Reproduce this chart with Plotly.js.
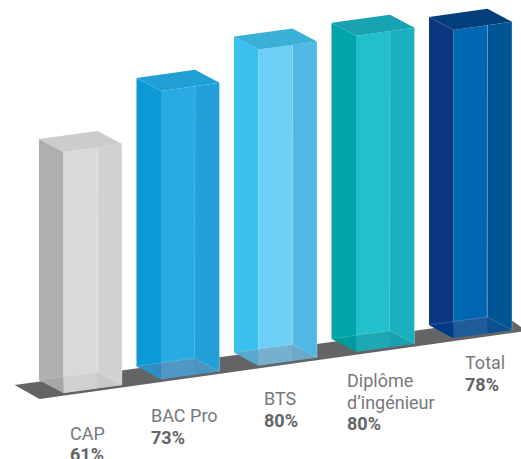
<!DOCTYPE html>
<html><head><meta charset="utf-8">
<script src="https://cdn.plot.ly/plotly-3.0.1.min.js"></script>
<style>html,body{margin:0;padding:0;background:#fff;overflow:hidden}#c{width:521px;height:459px}</style>
</head><body><div id="c"></div>
<script>
const categories = [["CAP"],["BAC Pro"],["BTS"],["Diplôme","d’ingénieur"],["Total"]];
const values = [61,73,80,80,78];
const leftColors  = ["#aeafb1","#0a9ad5","#3bbfef","#00a5a8","#0d3680"];
const midColors   = ["#d8d9db","#29aae3","#6dcff6","#22bfcd","#0066b2"];
const rightColors = ["#d0d1d3","#22a0d8","#50b8e2","#1bb0bf","#005594"];
const topColors   = ["#cbccce","#209fd5","#3ab0d9","#18a2b2","#01407a"];
const floorLeft   = ["#a6a7a9","#2f8fc4","#5aa9cc","#009a9e","#003a85"];
const floorMid    = ["#cfd0d2","#4f97c4","#75b0cf","#1ea8b5","#1f5c9a"];
const floorRight  = ["#c8c9cb","#4a94c0","#6aa9c8","#19a0ae","#0a5090"];

const PX_X = 97.5, PX_Y = 3.95, RISE = 13.75;
// position: category index i, pixel offset dx along the ground, height v in %, pixel lift dy
const X = (i,dx)=> i + dx/PX_X;
const Y = (i,v,dy)=> (RISE*i + dy)/PX_Y + v;
const FRONT=58.5, SIDE=24.5, SPLIT=34, SLOPE=8/58, DEPTH=13;
const frontLift = dx => dx*SLOPE;

function poly(pts,color){
  return {type:'scatter',mode:'lines',x:pts.map(p=>p[0]),y:pts.map(p=>p[1]),
    fill:'toself',fillcolor:color,line:{width:0,color:color},hoverinfo:'skip',showlegend:false};
}
function seg(pts,color,w){
  return {type:'scatter',mode:'lines',x:pts.map(p=>p[0]),y:pts.map(p=>p[1]),
    line:{width:w,color:color},hoverinfo:'skip',showlegend:false};
}
const traces=[];
// floor slab
traces.push(poly([[X(0,-49),Y(0,0,8)],[X(0,-24),Y(0,0,-6)],[X(4,73),Y(4,0,7)],[X(4,55),Y(4,0,20)]],"#636466"));

values.forEach((v,i)=>{
  const P=(dx,h,dy)=>[X(i,dx),Y(i,h,dy)];
  traces.push(poly([P(-SIDE,v,DEPTH),P(0,v,0),P(0,0,0),P(-SIDE,0,DEPTH)],leftColors[i]));
  traces.push(poly([P(0,v,0),P(SPLIT,v,frontLift(SPLIT)),P(SPLIT,0,frontLift(SPLIT)),P(0,0,0)],midColors[i]));
  traces.push(poly([P(SPLIT,v,frontLift(SPLIT)),P(FRONT,v,frontLift(FRONT)),P(FRONT,0,frontLift(FRONT)),P(SPLIT,0,frontLift(SPLIT))],rightColors[i]));
  traces.push(poly([P(-SIDE,v,DEPTH),P(0,v,0),P(FRONT,v,frontLift(FRONT)),P(FRONT-SIDE,v,DEPTH+frontLift(FRONT))],topColors[i]));
  // inner floor, seen through the box
  const back=P(FRONT-SIDE-0.5,0,DEPTH+frontLift(FRONT));
  const lm=P(0,0,DEPTH+frontLift(SIDE));
  traces.push(poly([P(-SIDE,0,DEPTH),lm,P(0,0,0)],floorLeft[i]));
  traces.push(poly([lm,back,P(SPLIT,0,frontLift(SPLIT)),P(0,0,0)],floorMid[i]));
  traces.push(poly([back,P(FRONT,0,frontLift(FRONT)),P(SPLIT,0,frontLift(SPLIT))],floorRight[i]));
  // glassy edges
  traces.push(seg([P(SPLIT,v,frontLift(SPLIT)),back],"rgba(255,255,255,0.22)",0.8));
  traces.push(seg([P(FRONT,v,frontLift(FRONT)),P(FRONT,0,frontLift(FRONT))],"rgba(255,255,255,0.35)",0.8));
  traces.push(seg([P(-SIDE,0,DEPTH),back,P(FRONT,0,frontLift(FRONT))],"rgba(255,255,255,0.25)",0.7));
});

// text placement: left edge and the first baseline, in picture pixels
const labelLeft=[69,150,263,346,464], labelBase=[439.5,422,405,387,369], LINE=21.5, CAP_MID=6.5;
const annotations=[];
categories.forEach((lines,i)=>{
  const rows=lines.map(t=>({t:t,bold:false})).concat([{t:values[i]+"%",bold:true}]);
  rows.forEach((r,k)=>annotations.push({
    xref:'paper',yref:'paper',x:labelLeft[i]/521,y:1-(labelBase[i]+k*LINE-CAP_MID)/459,
    xanchor:'left',yanchor:'middle',align:'left',showarrow:false,borderpad:0,
    text:r.bold?"<b>"+r.t+"</b>":r.t,
    font:{family:'Roboto, sans-serif',size:18,color:r.bold?'#636466':'#77787b'}
  }));
});
Plotly.newPlot('c',traces,{
  width:521,height:459,margin:{l:0,r:0,t:0,b:0},paper_bgcolor:'#fff',plot_bgcolor:'#fff',showlegend:false,
  xaxis:{visible:false,range:[X(0,-63.5),X(0,457.5)],fixedrange:true},
  yaxis:{visible:false,range:[-66/PX_Y,393/PX_Y],fixedrange:true},
  annotations:annotations
},{displayModeBar:false,staticPlot:true});
</script></body></html>
